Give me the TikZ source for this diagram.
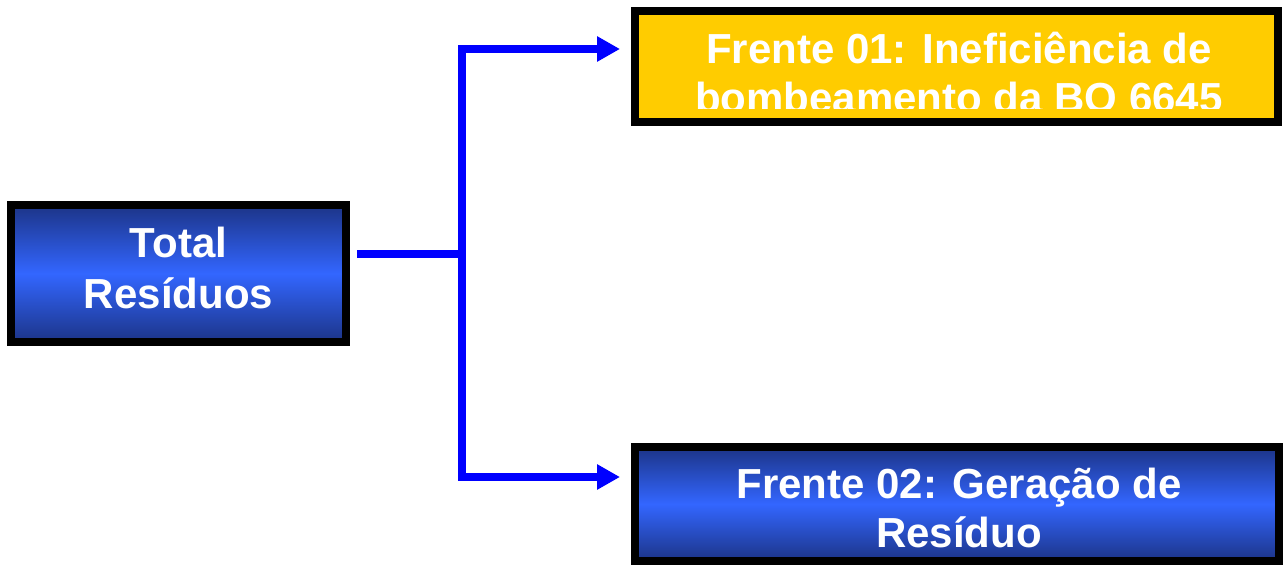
\documentclass[tikz,border=0pt]{standalone}
\usepackage{fontspec}
\setmainfont{Liberation Sans}
\usetikzlibrary{arrows.meta}
\definecolor{navy}{RGB}{28,52,135}
\definecolor{bright}{RGB}{51,102,255}
\definecolor{gold}{RGB}{255,204,0}
\definecolor{conncol}{RGB}{0,0,255}
\tikzset{
  boxbase/.style={draw=black, line width=8pt, inner sep=0pt, rectangle},
  bluebox/.style={boxbase, top color=navy, bottom color=navy, middle color=bright},
  goldbox/.style={boxbase, fill=gold},
  lbl/.style={text=white, inner sep=0pt, align=center, font=\bfseries\fontsize{42}{49}\selectfont},
  conn/.style={draw=conncol, line width=8pt, line join=miter},
  tip/.style={-{Triangle[length=23pt,width=24pt]}}
}
\begin{document}
\begin{tikzpicture}[x=1pt,y=-1pt]
\useasboundingbox (0,0) rectangle (1283,565);
% boxes
\node[bluebox, minimum width=335pt, minimum height=137pt] (total) at (178.5,273.5) {};
\node[goldbox, minimum width=643pt, minimum height=111pt] (f1) at (956.5,66.5) {};
\node[bluebox, minimum width=644pt, minimum height=114pt] (f2) at (957,504) {};
% labels
\node[lbl, font=\bfseries\fontsize{42}{51}\selectfont] (totaltxt) at (178.5,267.6) {Total\\Resíduos};
\begin{scope}
  \clip (639,15) rectangle (1274,108);
  \node[lbl] (f1txt) at (959,72.3) {Frente 01: Ineficiência de\\bombeamento da BO 6645};
\end{scope}
\node[lbl] (f2txt) at (959,508) {Frente 02: Geração de\\Resíduo};
% connectors
\coordinate (jmid) at (462,254);
\coordinate (jtop) at (462,49);
\coordinate (jbot) at (462,477);
\draw[conn, shorten <=7pt] (total.east |- jmid) -- (jmid);
\draw[conn, tip, shorten >=11pt] (jmid) -- (jtop) -- (jtop -| f1.west);
\draw[conn, tip, shorten >=11pt] (jmid) -- (jbot) -- (jbot -| f2.west);
\end{tikzpicture}
\end{document}
